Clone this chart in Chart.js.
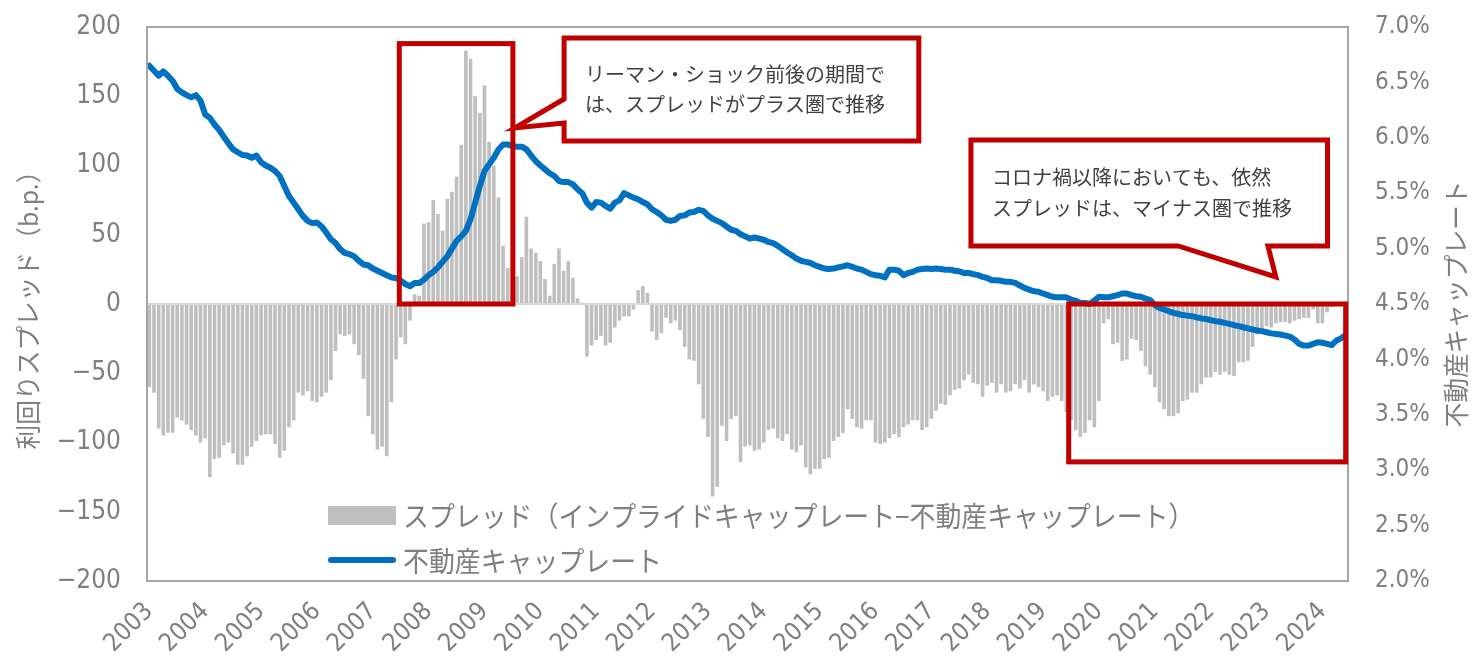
<!DOCTYPE html>
<html>
<head>
<meta charset="utf-8">
<script src="https://cdn.jsdelivr.net/npm/chart.js@4.4.1/dist/chart.umd.min.js"></script>
<style>
  html, body { margin: 0; padding: 0; background: #ffffff; }
  #wrap { width: 1472px; height: 660px; }
</style>
</head>
<body>
<div id="wrap"><canvas id="c" width="1472" height="660"></canvas></div>
<script>
// ---------------- DATA ----------------
const yearLabels = ['2003','2004','2005','2006','2007','2008','2009','2010','2011','2012','2013',
  '2014','2015','2016','2017','2018','2019','2020','2021','2022','2023','2024'];
const lastMonth = 6; // data runs through June 2024

// Monthly spread (b.p.)
const spread = [
  -60,-64,-90,-95,-93,-93,-82,-84,-87,-91,-95,-100,
  -97,-125,-112,-111,-102,-100,-108,-116,-116,-110,-103,-99,
  -95,-94,-94,-101,-111,-106,-89,-84,-64,-66,-63,-70,
  -71,-67,-64,-55,-34,-22,-23,-22,-29,-37,-54,-81,
  -94,-105,-103,-110,-71,-40,-24,-29,-12,7,6,58,
  59,75,65,53,76,81,92,115,183,177,150,138,
  158,117,100,77,42,26,27,20,34,63,40,37,
  31,18,6,29,40,24,31,19,4,1,-38,-30,
  -26,-23,-30,-28,-17,-12,-9,-9,-4,10,13,8,
  -20,-26,-21,-10,-14,-12,-19,-31,-40,-41,-58,-83,
  -96,-139,-132,-88,-99,-83,-81,-114,-103,-102,-106,-105,
  -100,-91,-90,-97,-99,-94,-105,-107,-102,-118,-123,-119,
  -119,-112,-111,-99,-96,-93,-76,-83,-89,-90,-84,-84,
  -100,-101,-100,-97,-94,-96,-89,-87,-84,-84,-91,-89,
  -83,-77,-72,-73,-66,-62,-61,-55,-51,-57,-58,-67,
  -59,-57,-64,-58,-64,-63,-58,-61,-55,-64,-58,-60,
  -63,-70,-67,-66,-70,-78,-84,-91,-96,-93,-84,-89,
  -70,-14,-11,-29,-28,-41,-40,-25,-26,-34,-45,-51,
  -60,-71,-76,-81,-81,-79,-70,-69,-64,-64,-58,-53,
  -53,-49,-51,-49,-51,-52,-42,-42,-41,-31,-22,-19,
  -16,-17,-14,-13,-13,-14,-12,-11,-10,-10,-4,-14,
  -14,-6,-2,-1,-1,-1
];

// Monthly real-estate cap rate (%)
const capRate = [
  6.65,6.605,6.56,6.60,6.56,6.515,6.44,6.41,6.385,6.365,6.385,6.335,
  6.21,6.18,6.12,6.07,6.01,5.95,5.895,5.87,5.845,5.84,5.82,5.84,
  5.78,5.75,5.73,5.70,5.655,5.565,5.475,5.415,5.355,5.295,5.25,5.23,
  5.235,5.20,5.145,5.085,5.05,4.995,4.96,4.95,4.93,4.89,4.857,4.85,
  4.82,4.80,4.78,4.76,4.74,4.735,4.71,4.68,4.66,4.69,4.69,4.72,
  4.76,4.79,4.83,4.88,4.93,5.00,5.07,5.11,5.16,5.265,5.415,5.565,
  5.70,5.76,5.82,5.895,5.94,5.94,5.925,5.92,5.92,5.895,5.84,5.79,
  5.75,5.715,5.68,5.655,5.61,5.60,5.60,5.58,5.535,5.50,5.415,5.37,
  5.42,5.415,5.385,5.36,5.415,5.435,5.50,5.48,5.46,5.445,5.42,5.40,
  5.355,5.33,5.30,5.26,5.25,5.26,5.295,5.30,5.325,5.33,5.35,5.34,
  5.30,5.27,5.25,5.23,5.20,5.17,5.16,5.13,5.11,5.09,5.10,5.09,
  5.08,5.06,5.05,5.025,4.995,4.965,4.94,4.91,4.89,4.88,4.87,4.85,
  4.835,4.82,4.815,4.82,4.83,4.84,4.85,4.835,4.82,4.81,4.79,4.77,
  4.76,4.755,4.74,4.81,4.81,4.80,4.76,4.78,4.79,4.81,4.815,4.82,
  4.815,4.82,4.815,4.81,4.81,4.80,4.795,4.78,4.78,4.77,4.76,4.745,
  4.735,4.715,4.715,4.71,4.70,4.70,4.69,4.667,4.645,4.63,4.615,4.61,
  4.595,4.58,4.565,4.56,4.56,4.56,4.54,4.53,4.51,4.51,4.50,4.53,
  4.565,4.56,4.56,4.57,4.58,4.595,4.595,4.58,4.57,4.565,4.55,4.535,
  4.49,4.465,4.45,4.435,4.42,4.41,4.40,4.395,4.39,4.38,4.37,4.365,
  4.355,4.345,4.34,4.33,4.32,4.31,4.30,4.29,4.28,4.27,4.26,4.255,
  4.245,4.235,4.23,4.225,4.215,4.205,4.18,4.14,4.125,4.125,4.14,4.155,
  4.15,4.14,4.13,4.17,4.19,4.22
];

const spreadLabel = 'スプレッド（インプライドキャップレート−不動産キャップレート）';
const capLabel = '不動産キャップレート';
const leftTitle = '利回りスプレッド（b.p.）';
const rightTitle = '不動産キャップレート';
const note1 = ['リーマン・ショック前後の期間で', 'は、スプレッドがプラス圏で推移'];
const note2 = ['コロナ禍以降においても、依然', 'スプレッドは、マイナス圏で推移'];

// month categories
const categories = [];
yearLabels.forEach((yr, k) => {
  const months = (k === yearLabels.length - 1) ? lastMonth : 12;
  for (let m = 1; m <= months; m++) categories.push(yr + '/' + String(m).padStart(2, '0'));
});

// ---------------- ANNOTATIONS (category-index / left-axis units) ----------------
const boxes = [
  { from: 54.2, to: 78.6, top: 188, bottom: 0 },
  { from: 198.0, to: 257.5, top: 0, bottom: -114 }
];
const callouts = [
  { path: [[89.6,192],[165.8,192],[165.8,117.7],[89.6,117.7],[89.6,130.7],[79.05,127.1],[89.6,148]],
    textAt: [94.1, 166.1, 144.4], lines: note1 },
  { path: [[177.0,118.4],[253.6,118.4],[253.6,41.9],[240.8,41.9],[242.5,19.5],[221.5,41.9],[177.0,41.9]],
    textAt: [181.5, 91.7, 69.3], lines: note2 }
];

// ---------------- STYLE ----------------
const GRAY = '#7f7f7f';
const NUM_FONT = '"DejaVu Sans Condensed", "Liberation Sans Narrow", sans-serif';
const JP_FONT = '"Noto Sans CJK JP", "Noto Sans", sans-serif';

const overlay = {
  id: 'overlay',
  afterDatasetsDraw(chart) {
    const { ctx, chartArea: ca, scales: { x, y } } = chart;
    const step = (x.right - x.left) / categories.length;
    const X = ci => x.left + ci * step;
    const Y = v => y.getPixelForValue(v);
    ctx.save();
    // plot border
    ctx.strokeStyle = '#a6a6a6';
    ctx.lineWidth = 2;
    ctx.strokeRect(ca.left, ca.top, ca.right - ca.left, ca.bottom - ca.top);

    // highlight boxes
    ctx.strokeStyle = '#c00000';
    ctx.lineWidth = 5;
    ctx.lineJoin = 'miter';
    boxes.forEach(b => {
      ctx.strokeRect(X(b.from), Y(b.top), X(b.to) - X(b.from), Y(b.bottom) - Y(b.top));
    });

    // callouts
    callouts.forEach(c => {
      ctx.beginPath();
      c.path.forEach((p, i) => { const px = X(p[0]), py = Y(p[1]); if (i) ctx.lineTo(px, py); else ctx.moveTo(px, py); });
      ctx.closePath();
      ctx.fillStyle = '#ffffff';
      ctx.fill();
      ctx.strokeStyle = '#c00000';
      ctx.lineWidth = 5;
      ctx.stroke();
      ctx.fillStyle = '#404040';
      ctx.font = '20px ' + JP_FONT;
      ctx.textAlign = 'left';
      ctx.textBaseline = 'middle';
      ctx.fillText(c.lines[0], X(c.textAt[0]), Y(c.textAt[1]));
      ctx.fillText(c.lines[1], X(c.textAt[0]), Y(c.textAt[2]));
    });

    // legend
    const lx = ca.left + 181, tx = ca.left + 256;
    const r1 = ca.top + 488, r2 = ca.top + 533;
    const ds = chart.data.datasets;
    ctx.fillStyle = ds[1].backgroundColor;
    ctx.fillRect(lx, r1 - 9, 68, 19);
    ctx.strokeStyle = ds[0].borderColor;
    ctx.lineWidth = 6;
    ctx.lineCap = 'round';
    ctx.beginPath(); ctx.moveTo(lx + 3, r2); ctx.lineTo(lx + 65, r2); ctx.stroke();
    ctx.fillStyle = GRAY;
    ctx.font = '28px ' + JP_FONT;
    ctx.textAlign = 'left';
    ctx.textBaseline = 'middle';
    [[ds[1].label, r1], [ds[0].label, r2]].forEach(([t, ry]) => {
      ctx.save(); ctx.translate(tx, ry); ctx.scale(0.925, 1); ctx.fillText(t, 0, 1); ctx.restore();
    });

    // axis titles
    ctx.font = '26px ' + JP_FONT;
    ctx.textAlign = 'center';
    const midY = (ca.top + ca.bottom) / 2;
    [[leftTitle, 28], [rightTitle, 1456]].forEach(([t, cx]) => {
      ctx.save(); ctx.translate(cx, midY); ctx.rotate(-Math.PI / 2); ctx.scale(0.95, 1); ctx.fillText(t, 0, 0); ctx.restore();
    });
    ctx.restore();
  }
};

new Chart(document.getElementById('c'), {
  data: {
    labels: categories,
    datasets: [
      { type: 'line', label: capLabel, data: capRate, yAxisID: 'y1', borderColor: '#0070c0',
        borderWidth: 6, pointRadius: 0, tension: 0, borderJoinStyle: 'round', borderCapStyle: 'round', order: 0 },
      { type: 'bar', label: spreadLabel, data: spread, yAxisID: 'y', backgroundColor: '#bfbfbf',
        barPercentage: 0.78, categoryPercentage: 1.0, order: 1 }
    ]
  },
  options: {
    responsive: false,
    animation: false,
    layout: { padding: { top: 27, left: 0, right: 0, bottom: 0 } },
    plugins: { legend: { display: false }, tooltip: { enabled: false } },
    scales: {
      x: {
        type: 'category',
        grid: { display: false },
        border: { display: false },
        ticks: {
          autoSkip: false, maxRotation: 45, minRotation: 45, padding: 8,
          color: GRAY, font: { family: NUM_FONT, size: 25 },
          callback: (v, i) => (i % 12 === 0 ? yearLabels[i / 12] : '')
        },
        afterFit: s => { s.height = 79; }
      },
      y: {
        position: 'left', min: -200, max: 200,
        grid: { drawTicks: false, lineWidth: 2, color: c => (c.tick && c.tick.value === 0 ? '#d9d9d9' : 'rgba(0,0,0,0)') },
        border: { display: false },
        ticks: { stepSize: 50, padding: 26, color: GRAY, font: { family: NUM_FONT, size: 26 },
          callback: v => (v < 0 ? '−' + Math.abs(v) : String(v)) },
        afterFit: s => { s.width = 147; s.paddingTop = 0; s.paddingBottom = 0; }
      },
      y1: {
        position: 'right', min: 2, max: 7,
        grid: { display: false, drawTicks: false },
        border: { display: false },
        ticks: { stepSize: 0.5, padding: 27, color: GRAY, font: { family: NUM_FONT, size: 24 },
          callback: v => v.toFixed(1) + '%' },
        afterFit: s => { s.width = 124; s.paddingTop = 0; s.paddingBottom = 0; }
      }
    }
  },
  plugins: [overlay]
});
</script>
</body>
</html>
